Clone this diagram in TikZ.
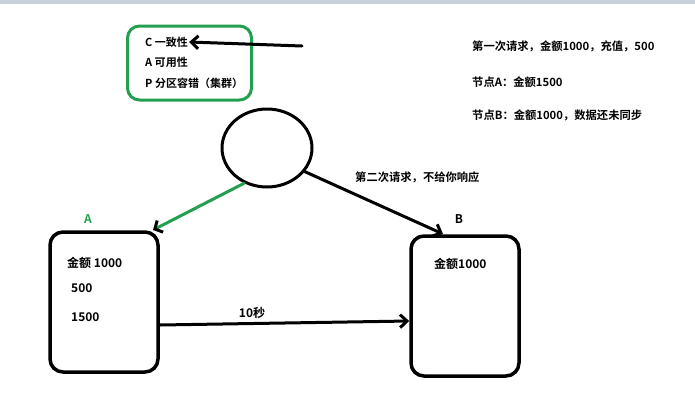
\documentclass[tikz,border=0pt]{standalone}
\usepackage{fontspec}
\setmainfont{Noto Sans CJK SC}[BoldFont={Noto Sans CJK SC Bold}]
\usetikzlibrary{arrows.meta,shapes.geometric}
\definecolor{cgreen}{RGB}{34,160,80}
\definecolor{topbar}{RGB}{200,208,222}
\tikzset{
  txt/.style={font=\fontsize{12}{14}\selectfont\bfseries, inner sep=0pt, anchor=west},
  stxt/.style={txt, font=\fontsize{11.3}{13}\selectfont\bfseries},
  captxt/.style={txt, font=\fontsize{11}{13}\selectfont\bfseries},
  ink/.style={line width=3pt, line cap=round, line join=round},
  box/.style={draw, line width=3.5pt, rounded corners=13pt},
  tip/.style={-{Straight Barb[length=7pt,width=13pt,line width=3pt]}},
}
\begin{document}
\begin{tikzpicture}[x=1pt,y=-1pt]
\useasboundingbox (0,0) rectangle (695,402);
\fill[white] (0,0) rectangle (695,402);
\fill[topbar] (0,0) rectangle (695,4);
% CAP box
\node[box, draw=cgreen, line width=3pt, rounded corners=12pt, minimum width=124pt, minimum height=74pt] (cap) at (189.5,63) {};
\node[captxt] (c) at (145,42) {C 一致性};
\node[captxt] (a) at (145,62) {A 可用性};
\node[captxt] (p) at (145,83) {P 分区容错（集群）};
\coordinate (ctail) at (302,46);
\draw[ink, tip] (ctail) -- ([xshift=1pt]c.east);
% right notes
\node[stxt] (n1) at (472,46) {第一次请求，金额1000，充值，500};
\node[stxt] (n2) at (472,82) {节点A：金额1500};
\node[stxt] (n3) at (472,115) {节点B：金额1000，数据还未同步};
% client circle
\node[draw, ellipse, line width=3pt, minimum width=90pt, minimum height=78pt, inner sep=0pt] (cl) at (267,148) {};
% nodes A and B
\node[box, minimum width=108pt, minimum height=140pt] (A) at (104,302) {};
\node[box, minimum width=108pt, minimum height=140pt] (B) at (465,306) {};
\node[txt, anchor=center, text=cgreen] (la) at (88,219) {A};
\node[txt, anchor=center] (lb) at (459,219) {B};
\node[txt] (a1) at (67,263) {金额 1000};
\node[txt] (a2) at (71,288) {500};
\node[txt] (a3) at (71,317) {1500};
\node[txt] (b1) at (434,264) {金额1000};
% connectors
\coordinate (atip) at (153,230);
\coordinate (btip) at (443,234);
\draw[ink, draw=cgreen, -{Straight Barb[length=6pt,width=13pt,line width=3pt,black]}] (cl.237) -- (atip);
\draw[ink, tip] (cl.-32) -- (btip);
\node[stxt] (q2) at (355,177) {第二次请求，不给你响应};
\draw[ink, tip] (A.east |- 0,325) -- (B.west |- 0,321) node[pos=0.37, above=3pt, txt, anchor=south] (t10) {10秒};
\end{tikzpicture}
\end{document}
